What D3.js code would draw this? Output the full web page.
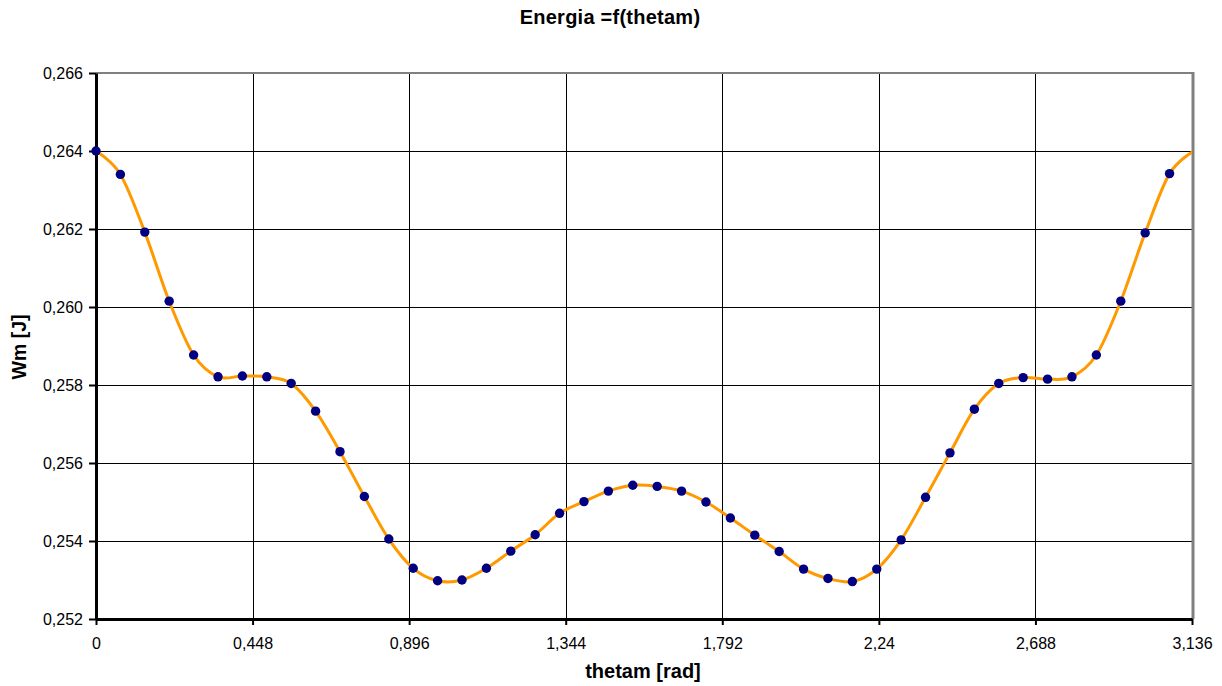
<!DOCTYPE html>
<html><head><meta charset="utf-8">
<script src="https://cdn.jsdelivr.net/npm/d3@7"></script>
<style>html,body{margin:0;padding:0;background:#fff;}svg{display:block;font-family:"Liberation Sans",Arial,sans-serif;}</style>
</head><body>
<script>
const thetam = [0, 0.0698, 0.1396, 0.2094, 0.2793, 0.3491, 0.4189, 0.4887, 0.5585, 0.6283,
  0.6981, 0.7679, 0.8378, 0.9076, 0.9774, 1.0472, 1.1170, 1.1868, 1.2566, 1.3265,
  1.3963, 1.4661, 1.5359, 1.6057, 1.6755, 1.7453, 1.8151, 1.8850, 1.9548, 2.0246,
  2.0944, 2.1642, 2.2340, 2.3038, 2.3736, 2.4435, 2.5133, 2.5831, 2.6529, 2.7227,
  2.7925, 2.8623, 2.9322, 3.0020, 3.0718, 3.1416];
const wm = [0.26400, 0.26340, 0.26192, 0.26015, 0.25877, 0.25821, 0.25823, 0.25821, 0.25804, 0.25733,
  0.25629, 0.25514, 0.25405, 0.25330, 0.25298, 0.25300, 0.25330, 0.25374, 0.25416, 0.25471,
  0.25501, 0.25528, 0.25543, 0.25540, 0.25528, 0.25500, 0.25459, 0.25415, 0.25373, 0.25328,
  0.25304, 0.25296, 0.25328, 0.25403, 0.25512, 0.25626, 0.25738, 0.25804, 0.25819, 0.25815,
  0.25821, 0.25877, 0.26015, 0.26190, 0.26342, 0.26400];
const xTicks = [0, 0.448, 0.896, 1.344, 1.792, 2.24, 2.688, 3.136];
const yTicks = [0.252, 0.254, 0.256, 0.258, 0.260, 0.262, 0.264, 0.266];
const titleText = "Energia =f(thetam)";
const xTitle = "thetam [rad]";
const yTitle = "Wm [J]";

const W = 1222, H = 686;
const L = 96, T = 73, R = 1192, B = 619;
const svg = d3.select("body").append("svg").attr("width", W).attr("height", H);
const x = d3.scaleLinear().domain([0, 3.136]).range([L, R]);
const y = d3.scaleLinear().domain([0.252, 0.266]).range([B, T]);
const fmt = v => String(v).replace(".", ",");
const fmtY = v => d3.format(".3f")(v).replace(".", ",");

// gridlines
svg.append("g").selectAll("line.h").data(yTicks.slice(1, -1)).join("line")
  .attr("x1", L).attr("x2", R).attr("y1", d => Math.round(y(d)) + 0.5).attr("y2", d => Math.round(y(d)) + 0.5)
  .attr("stroke", "#000").attr("stroke-width", 1);
svg.append("g").selectAll("line.v").data(xTicks.slice(1, -1)).join("line")
  .attr("y1", T).attr("y2", B).attr("x1", d => Math.round(x(d)) + 0.5).attr("x2", d => Math.round(x(d)) + 0.5)
  .attr("stroke", "#000").attr("stroke-width", 1);

// top & right border
svg.append("line").attr("x1", L).attr("x2", R + 1).attr("y1", T).attr("y2", T).attr("stroke", "#808080").attr("stroke-width", 2);
svg.append("line").attr("x1", R + 1).attr("x2", R + 1).attr("y1", T - 1).attr("y2", B).attr("stroke", "#808080").attr("stroke-width", 3);

// axes
const xAxis = d3.axisBottom(x).tickValues(xTicks).tickFormat(fmt).tickSize(6).tickSizeOuter(0);
const yAxis = d3.axisLeft(y).tickValues(yTicks).tickFormat(fmtY).tickSize(7).tickSizeOuter(0);
const gx = svg.append("g").attr("transform", `translate(0,${B})`).call(xAxis);
const gy = svg.append("g").attr("transform", `translate(${L},0)`).call(yAxis);
[gx, gy].forEach(g => {
  g.select(".domain").attr("stroke", "#000").attr("stroke-width", 3);
  g.selectAll(".tick line").attr("stroke", "#000").attr("stroke-width", 2);
  g.selectAll("text").attr("fill", "#000").style("font-size", "16px").style("font-family", "'Liberation Sans', Arial, sans-serif");
});
gx.selectAll("text").attr("dy", null).attr("y", 30);
gy.selectAll("text").attr("x", -13).attr("dy", "0.35em");

// clip
svg.append("clipPath").attr("id", "plot").append("rect").attr("x", L).attr("y", T - 10).attr("width", R - L).attr("height", B - T + 20);

const pts = thetam.map((t, i) => [t, wm[i]]);
const line = d3.line().x(d => x(d[0])).y(d => y(d[1])).curve(d3.curveCatmullRom.alpha(0));
svg.append("path").attr("clip-path", "url(#plot)").datum(pts).attr("d", line)
  .attr("fill", "none").attr("stroke", "#FF9900").attr("stroke-width", 3);

svg.append("g").selectAll("circle").data(pts.filter(d => d[0] <= 3.136)).join("circle")
  .attr("cx", d => x(d[0])).attr("cy", d => y(d[1])).attr("r", 4.7).attr("fill", "#000080");

// titles
svg.append("text").attr("x", 610).attr("y", 23.5).attr("text-anchor", "middle")
  .style("font-size", "20px").style("font-weight", "bold").style("letter-spacing", "0.25px").text(titleText);
svg.append("text").attr("x", 643).attr("y", 678).attr("text-anchor", "middle")
  .style("font-size", "20px").style("font-weight", "bold").text(xTitle);
svg.append("text").attr("transform", "translate(26,347) rotate(-90)").attr("text-anchor", "middle")
  .style("font-size", "19.5px").style("font-weight", "bold").text(yTitle);
</script>
</body></html>
